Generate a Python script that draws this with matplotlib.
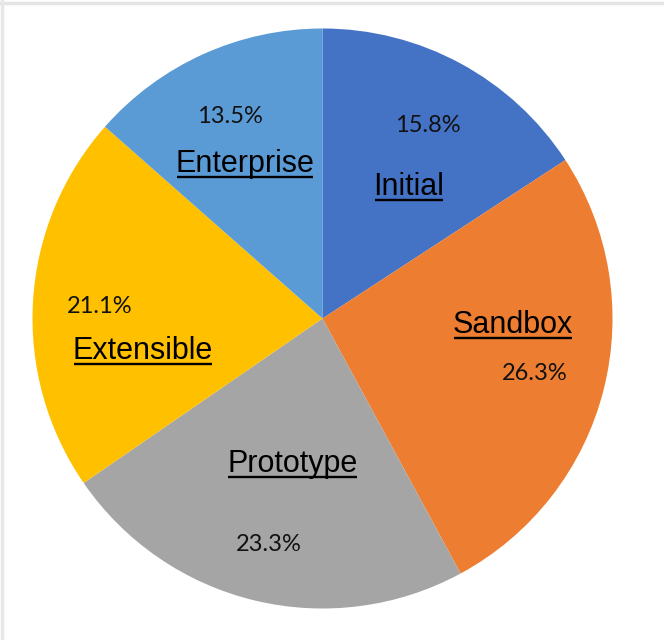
import matplotlib
matplotlib.use("Agg")
import matplotlib.pyplot as plt
from matplotlib.lines import Line2D

# stage shares (%), clockwise from 12 o'clock
stages = ["Initial", "Sandbox", "Prototype", "Extensible", "Enterprise"]
shares = [15.8, 26.3, 23.3, 21.1, 13.5]
colors = ["#4472C4", "#ED7D31", "#A5A5A5", "#FFC000", "#5B9BD5"]

W, H = 664, 640

# label spots in pixels (x, baseline y measured from the top)
name_pos = [(409, 195), (513, 333), (292.5, 472), (143, 359), (245, 172)]
pct_pos = [(428, 132), (534.5, 380), (268.5, 551), (99.5, 313), (230, 123)]

fig = plt.figure(figsize=(W / 100, H / 100), dpi=100)
ax = fig.add_axes([0, 0, 1, 1])

ax.pie(shares, colors=colors, startangle=90, counterclock=False,
       center=(322.5, H - 318.5), radius=290,
       wedgeprops=dict(linewidth=0))

# pie() resets the limits, so set them afterwards
ax.set_xlim(0, W)
ax.set_ylim(0, H)
ax.set_aspect("equal")
ax.axis("off")

# faint frame along the top and left edges
ax.add_line(Line2D([0, W], [H - 3, H - 3], color="#E4E4E4", lw=2.5))
ax.add_line(Line2D([1.5, 1.5], [0, H], color="#E8E8E8", lw=2.5))

name_texts = []
for name, (x, y) in zip(stages, name_pos):
    t = ax.text(x, H - y, name, ha="center", va="baseline",
                fontsize=22, family="Liberation Sans", color="black")
    name_texts.append((t, y))

for val, (x, y) in zip(shares, pct_pos):
    ax.text(x, H - y, f"{val:.1f}%", ha="center", va="baseline",
            fontsize=17, family="Lato", color="#111111")

# underline the stage names
fig.canvas.draw()
renderer = fig.canvas.get_renderer()
inv = ax.transData.inverted()
for t, y in name_texts:
    bb = t.get_window_extent(renderer)
    x0, _ = inv.transform((bb.x0, 0))
    x1, _ = inv.transform((bb.x1, 0))
    ax.add_line(Line2D([x0 + 1, x1 - 1], [H - y - 4.5, H - y - 4.5],
                       color="black", lw=1.7, solid_capstyle="butt"))

fig.savefig("out.png", dpi=100)
